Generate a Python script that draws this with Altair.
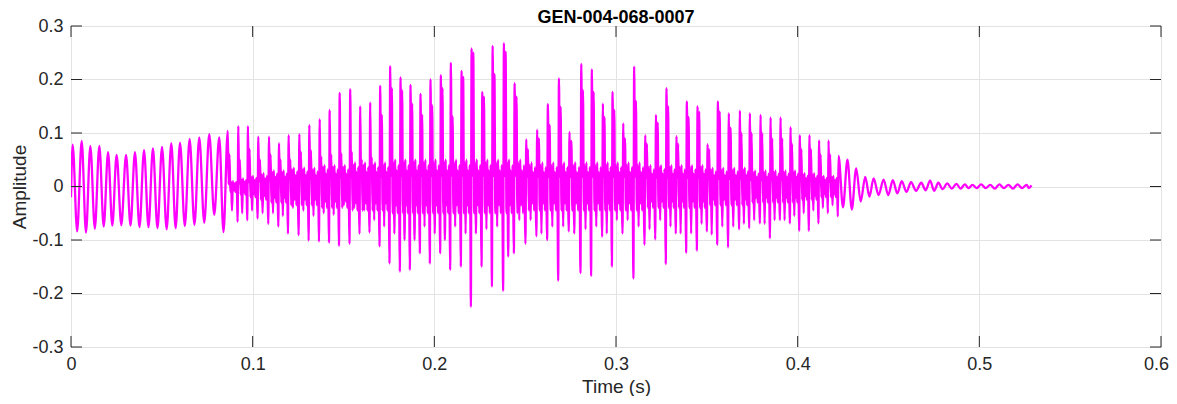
import altair as alt
import pandas as pd

# ---------------- data ----------------
# times in ms, amplitudes in signal units
start_ms, start_amp = 0.0, -0.02
end_ms, end_amp = 528.7, 0.002

# early, almost sinusoidal cycles: peak time, peak value, following trough
early_t = [0.92, 5.87, 10.64, 15.6, 20.4, 25.1, 30.3, 35.2, 40.2, 45.1, 50.1, 55.2,
           60.0, 65.3, 70.6, 76.1, 81.6]
early_hi = [0.078, 0.085, 0.076, 0.076, 0.064, 0.059, 0.059, 0.064, 0.068, 0.071, 0.074, 0.081,
            0.082, 0.089, 0.092, 0.098, 0.092]
early_lo = [-0.084, -0.086, -0.079, -0.075, -0.073, -0.072, -0.073, -0.076, -0.076, -0.078, -0.080, -0.078,
            -0.074, -0.072, -0.068, -0.053, -0.085]

# voiced middle part: main peak time, main peak, shoulder, secondary dip, main trough, ripple level
mid_t = [86.3, 92.1, 97.4, 103.1, 109.0, 114.5, 119.8, 125.7, 131.2, 136.9,
         142.4, 147.9, 153.7, 159.2, 164.7, 170.2, 175.7, 181.4, 186.9, 192.4,
         197.9, 203.6, 209.1, 215.0, 220.5, 226.4, 232.1, 238.3, 244.2, 250.6,
         256.6, 262.5, 268.6, 274.4, 280.9, 286.7, 292.8, 298.1, 304.0, 310.0,
         316.1, 322.0, 327.8, 333.3, 339.0, 344.9, 350.4, 356.1, 362.1, 368.2,
         373.7, 379.6, 385.1, 390.6, 396.1, 401.2, 406.5, 411.8, 417.0]
mid_hi = [0.104, 0.113, 0.113, 0.093, 0.093, 0.081, 0.096, 0.098, 0.115, 0.126,
          0.143, 0.175, 0.182, 0.150, 0.157, 0.188, 0.225, 0.204, 0.190, 0.173,
          0.200, 0.208, 0.231, 0.216, 0.258, 0.177, 0.263, 0.268, 0.193, 0.088,
          0.106, 0.154, 0.202, 0.102, 0.229, 0.219, 0.155, 0.177, 0.118, 0.224,
          0.096, 0.134, 0.184, 0.094, 0.159, 0.150, 0.079, 0.159, 0.137, 0.142,
          0.137, 0.134, 0.129, 0.129, 0.111, 0.096, 0.096, 0.086, 0.086]
mid_sh = [0.060, 0.050, 0.070, 0.050, 0.060, 0.050, 0.050, 0.065, 0.068, 0.056,
          0.060, 0.062, 0.065, 0.050, 0.055, 0.134, 0.184, 0.180, 0.155, 0.134,
          0.152, 0.184, 0.131, 0.205, 0.250, 0.168, 0.210, 0.252, 0.168, 0.070,
          0.090, 0.115, 0.149, 0.085, 0.180, 0.177, 0.130, 0.143, 0.090, 0.160,
          0.080, 0.120, 0.150, 0.080, 0.130, 0.140, 0.070, 0.140, 0.110, 0.100,
          0.100, 0.100, 0.090, 0.090, 0.080, 0.070, 0.070, 0.060, 0.060]
mid_lo2 = [-0.045, -0.050, -0.045, -0.050, -0.050, -0.055, -0.040, -0.045, -0.055, -0.050,
           -0.053, -0.035, -0.040, -0.045, -0.063, -0.075, -0.088, -0.100, -0.100, -0.075,
           -0.088, -0.100, -0.075, -0.088, -0.088, -0.080, -0.075, -0.131, -0.063, -0.063,
           -0.088, -0.075, -0.075, -0.088, -0.080, -0.075, -0.088, -0.063, -0.063, -0.075,
           -0.080, -0.063, -0.075, -0.088, -0.088, -0.070, -0.090, -0.075, -0.075, -0.070,
           -0.063, -0.070, -0.063, -0.063, -0.055, -0.050, -0.045, -0.040, -0.035]
mid_lo = [-0.066, -0.063, -0.060, -0.070, -0.075, -0.088, -0.091, -0.101, -0.103, -0.105,
          -0.111, -0.107, -0.088, -0.086, -0.112, -0.144, -0.159, -0.156, -0.125, -0.144,
          -0.125, -0.156, -0.150, -0.225, -0.150, -0.187, -0.195, -0.125, -0.107, -0.093,
          -0.100, -0.176, -0.084, -0.162, -0.167, -0.094, -0.150, -0.088, -0.172, -0.109,
          -0.099, -0.145, -0.088, -0.124, -0.120, -0.084, -0.109, -0.114, -0.080, -0.078,
          -0.069, -0.097, -0.063, -0.069, -0.083, -0.083, -0.069, -0.050, -0.056]
mid_rip = [0.010, 0.015, 0.020, 0.025, 0.030, 0.030, 0.035, 0.035, 0.035, 0.040,
           0.040, 0.040, 0.045, 0.045, 0.045, 0.045, 0.050, 0.050, 0.050, 0.050,
           0.050, 0.050, 0.050, 0.050, 0.050, 0.050, 0.050, 0.050, 0.050, 0.045,
           0.045, 0.045, 0.045, 0.045, 0.045, 0.045, 0.045, 0.045, 0.045, 0.045,
           0.040, 0.040, 0.040, 0.040, 0.040, 0.040, 0.035, 0.035, 0.035, 0.035,
           0.030, 0.030, 0.030, 0.030, 0.030, 0.025, 0.025, 0.020, 0.020]
# relative sizes of the small ringing swings inside one voiced cycle
ring_rel = [0.4, -1.0, 0.9, 1.0, -0.7, 0.6, -1.0, 0.8, -0.6]

# decaying ringing at the end: peak time, peak value, following trough
late_t = [422.5, 427.4, 432.2, 437.2, 441.8, 447.3, 452.4, 457.3, 462.4, 468.0, 472.9,
          477.4, 482.3, 487.4, 492.0, 496.2, 501.0, 506.0, 511.0, 516.0, 521.0, 526.0]
late_hi = [0.057, 0.050, 0.034, 0.018, 0.015, 0.013, 0.012, 0.010, 0.008, 0.007, 0.011,
           0.007, 0.006, 0.005, 0.004, 0.003, 0.004, 0.003, 0.004, 0.003, 0.004, 0.003]
late_lo = [-0.039, -0.043, -0.028, -0.019, -0.016, -0.016, -0.013, -0.010, -0.008, -0.007, -0.008,
           -0.005, -0.004, -0.004, -0.003, -0.003, -0.003, -0.004, -0.003, -0.004, -0.003, -0.003]

x_ticks = [0, 0.1, 0.2, 0.3, 0.4, 0.5, 0.6]
y_ticks = [-0.3, -0.2, -0.1, 0, 0.1, 0.2, 0.3]
title_text = "GEN-004-068-0007"
x_title = "Time (s)"
y_title = "Amplitude"

# ---------------- assemble the vertex table ----------------
SIMPLE_PHASE = [0.0, 0.5]
MID_PHASE = [0.00, 0.08, 0.16, 0.24, 0.32, 0.40, 0.48, 0.56, 0.64, 0.72, 0.80, 0.87, 0.93]

cycles = []
for t, hi, lo in zip(early_t, early_hi, early_lo):
    cycles.append((SIMPLE_PHASE, t, (hi, lo)))
for t, hi, sh, lo2, lo, rp in zip(mid_t, mid_hi, mid_sh, mid_lo2, mid_lo, mid_rip):
    r = [k * rp for k in ring_rel]
    vals = (hi, r[0], sh, r[1], r[2], lo2, r[3], r[4], r[5], r[6], r[7], r[8], lo)
    cycles.append((MID_PHASE, t, vals))
for t, hi, lo in zip(late_t, late_hi, late_lo):
    cycles.append((SIMPLE_PHASE, t, (hi, lo)))

pts = [(start_ms, start_amp)]
for i, (phases, t, vals) in enumerate(cycles):
    t_next = cycles[i + 1][1] if i + 1 < len(cycles) else end_ms
    period = t_next - t
    for ph, v in zip(phases, vals):
        pts.append((t + ph * period, v))
pts.append((end_ms, end_amp))

df = pd.DataFrame(pts, columns=["ms", "amp"])
df["t"] = df["ms"] / 1000.0
df["i"] = range(len(df))

# ---------------- chart ----------------
W, H = 1090, 321
TICK = 11
FONT = "Liberation Sans"
INK = "#262626"

xscale = alt.Scale(domain=[0, 0.6], nice=False, zero=False)
yscale = alt.Scale(domain=[-0.3, 0.3], nice=False, zero=False)
lab = "abs(datum.value) < 1e-9 ? '0' : (datum.value < 0 ? '-' : '') + format(abs(datum.value), '.1f')"

x_axis = alt.Axis(values=x_ticks, title=x_title, labelExpr=lab, grid=True, labelFlush=False,
                  ticks=False, tickSize=0, domain=False, labelPadding=8,
                  labelOffset={"condition": {"test": "datum.value > 0.55", "value": -5}, "value": 0},
                  titleX=W / 2, titleY=39.5, titleBaseline="middle")
y_axis = alt.Axis(values=y_ticks, title=y_title, labelExpr=lab, grid=True, labelFlush=False,
                  ticks=False, tickSize=0, domain=False, labelPadding=8,
                  titleX=-52, titleY=H / 2, titleBaseline="middle")

line = alt.Chart(df).mark_line(
    color="#ff00ff", strokeWidth=2.3, interpolate="monotone", clip=True
).encode(
    x=alt.X("t:Q", scale=xscale, axis=x_axis),
    y=alt.Y("amp:Q", scale=yscale, axis=y_axis),
    order="i:Q",
)

xt = pd.DataFrame({"t": x_ticks})
yt = pd.DataFrame({"amp": y_ticks})
top_ticks = alt.Chart(xt).mark_rule(color=INK, strokeWidth=1).encode(
    x=alt.X("t:Q", scale=xscale, axis=x_axis), y=alt.value(0), y2=alt.value(TICK))
bot_ticks = alt.Chart(xt).mark_rule(color=INK, strokeWidth=1).encode(
    x=alt.X("t:Q", scale=xscale, axis=x_axis), y=alt.value(H - TICK), y2=alt.value(H))
left_ticks = alt.Chart(yt).mark_rule(color=INK, strokeWidth=1).encode(
    y=alt.Y("amp:Q", scale=yscale, axis=y_axis), x=alt.value(0), x2=alt.value(TICK))
right_ticks = alt.Chart(yt).mark_rule(color=INK, strokeWidth=1).encode(
    y=alt.Y("amp:Q", scale=yscale, axis=y_axis), x=alt.value(W - TICK), x2=alt.value(W))

title_mark = alt.Chart(pd.DataFrame({"label": [title_text]})).mark_text(
    font=FONT, fontSize=18, fontWeight="bold", color="#000000",
    align="center", baseline="middle"
).encode(text="label:N", x=alt.value(W / 2), y=alt.value(-8.5))

chart = alt.layer(line, top_ticks, bot_ticks, left_ticks, right_ticks, title_mark).properties(
    width=W, height=H,
    padding={"left": 63, "top": 18, "right": 8, "bottom": 49},
    autosize=alt.AutoSizeParams(type="none"),
).configure_view(
    stroke="#8a8a8a", strokeWidth=1
).configure_axis(
    labelFont=FONT, labelFontSize=18, labelColor=INK,
    titleFont=FONT, titleFontSize=19, titleFontWeight="normal", titleColor=INK,
    gridColor="#e3e3e3", gridWidth=1, gridOpacity=1,
)

chart.save("out.html", embed_options={"renderer": "svg", "actions": False})
